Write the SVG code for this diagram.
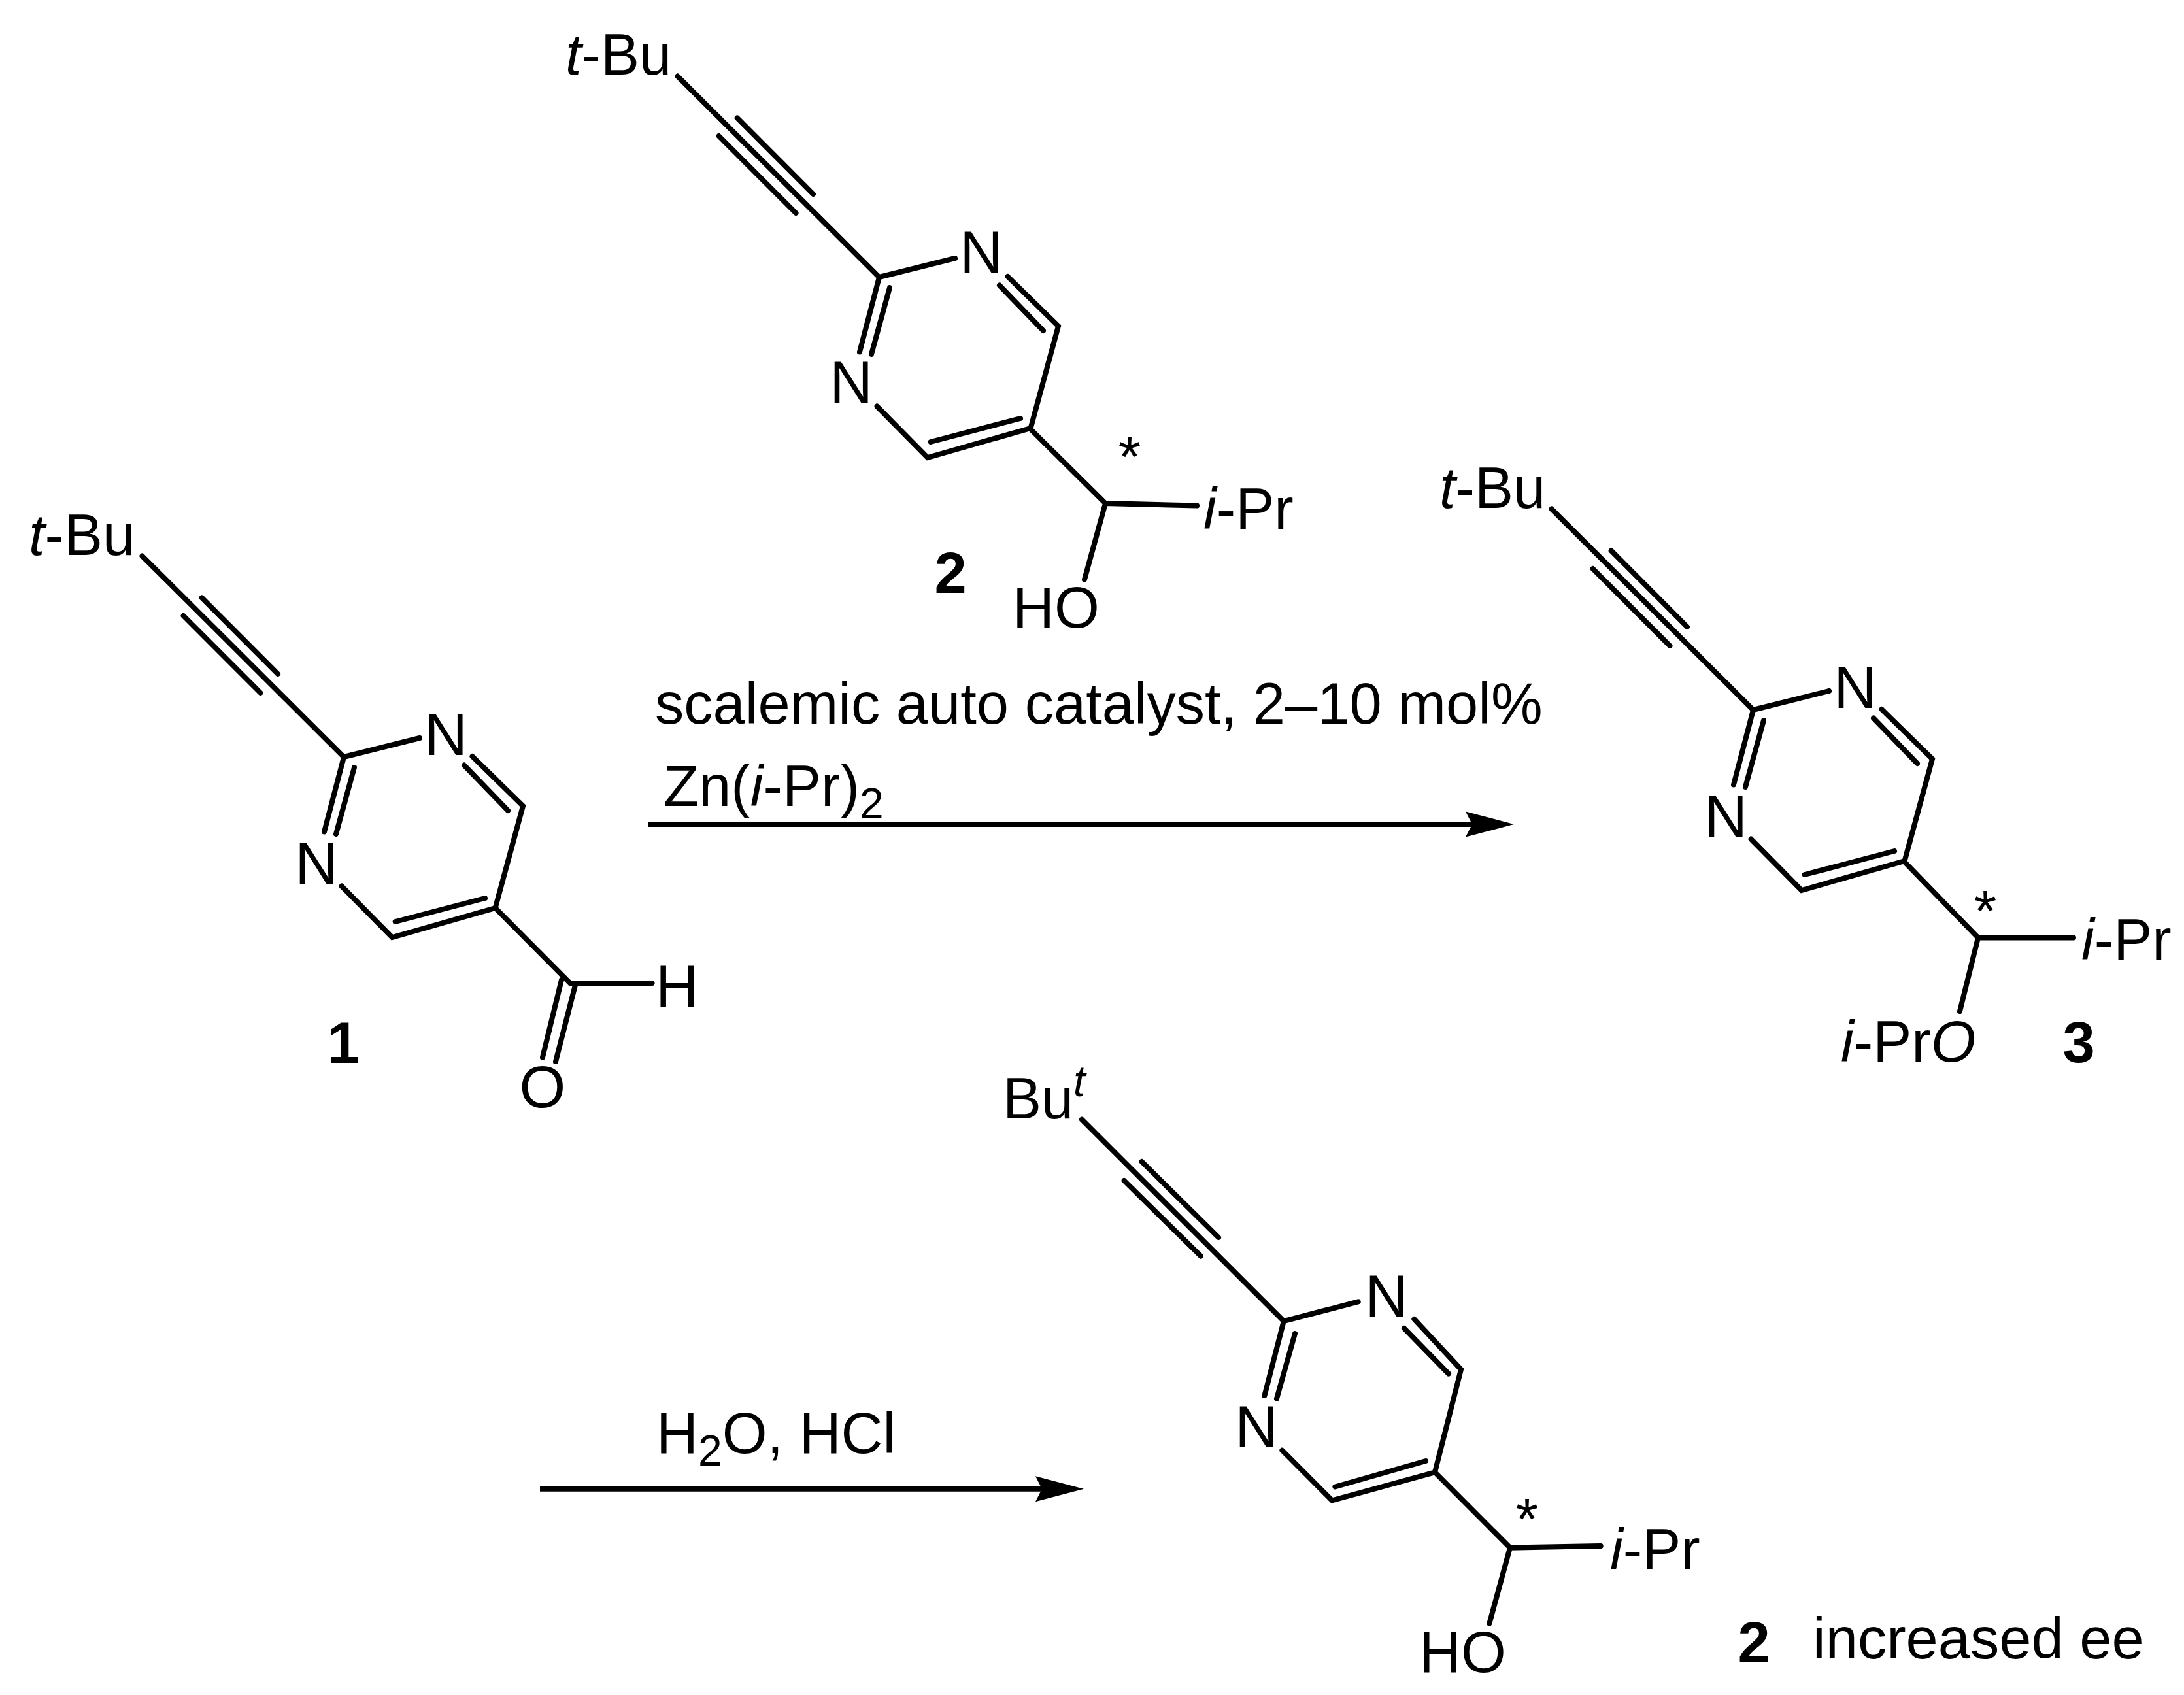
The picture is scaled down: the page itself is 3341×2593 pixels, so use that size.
<svg xmlns="http://www.w3.org/2000/svg" width="3341" height="2593" viewBox="0 0 3341 2593">
<style>
text{font-family:"Liberation Sans",Arial,sans-serif;font-size:88.5px;fill:#000}
.n{font-size:91px}
.b{font-weight:bold}
.i{font-style:italic}
.s{font-size:66px}
.bond{fill:none;stroke:#000;stroke-width:8;stroke-linecap:round;stroke-linejoin:miter}
.arrow{fill:none;stroke:#000;stroke-width:8;marker-end:url(#head)}
</style>
<defs>
<marker id="head" markerUnits="userSpaceOnUse" markerWidth="76" markerHeight="40" viewBox="0 0 76 40" refX="10" refY="20" orient="auto">
<path d="M0,0.5 L74,20 L0,39.5 L10,20 Z" fill="#000"/>
</marker>
<path id="skeleton" class="bond" d="M217.5,850.6 L526,1158 L642,1129 M308.7,914.4 L425,1031 M280.6,942 L398.5,1060 M526,1158 L496,1272.5 M542,1174 L514,1276 M522.6,1355.6 L600,1434 L757.6,1389 L800,1233 L722.5,1157 M604.7,1410 L742,1374 M777,1240 L710,1170.6"/>
</defs>
<rect width="3341" height="2593" fill="#fff"/>
<g id="connectors">
<path class="arrow" d="M992,1261 H2252"/>
<path class="arrow" d="M826,2277.7 H1594"/>
</g>
<g id="reagents-top">
<text x="1002" y="1107">scalemic auto catalyst, 2–10 mol%</text>
<text x="1015" y="1233">Zn(<tspan class="i">i</tspan>-Pr)<tspan class="s" dy="19">2</tspan></text>
</g>
<g id="reagents-bottom">
<text x="1004" y="2222.7">H<tspan class="s" dy="19">2</tspan><tspan dy="-19">O, HCl</tspan></text>
</g>
<g id="compound-1">
<use href="#skeleton"/>
<path class="bond" d="M757.6,1389 L872,1504 L997.6,1504 M859,1499 L830,1617.5 M880,1507 L850,1624"/>
<text x="44" y="849"><tspan class="i">t</tspan>-Bu</text>
<text class="n" x="682" y="1155" text-anchor="middle">N</text>
<text class="n" x="484" y="1352" text-anchor="middle">N</text>
<text class="n" x="1003" y="1540">H</text>
<text class="n" x="830" y="1694" text-anchor="middle">O</text>
<text class="b" x="525" y="1626" text-anchor="middle">1</text>
</g>
<g id="compound-2-top">
<use href="#skeleton" transform="translate(819,-734)"/>
<path class="bond" d="M1575,655 L1691,770 L1831,773.6 M1691,770 L1659,886.5"/>
<text x="865" y="114"><tspan class="i">t</tspan>-Bu</text>
<text class="n" x="1501" y="417" text-anchor="middle">N</text>
<text class="n" x="1302" y="616" text-anchor="middle">N</text>
<text x="1728" y="729" text-anchor="middle">*</text>
<text class="i" x="1841" y="809">i<tspan font-style="normal">-Pr</tspan></text>
<text class="b" x="1454" y="907" text-anchor="middle">2</text>
<text x="1549" y="960">HO</text>
</g>
<g id="compound-3">
<use href="#skeleton" transform="translate(2156,-72)"/>
<path class="bond" d="M2913,1318 L3026,1434.5 L3172,1434.5 M3026,1434.5 L2998,1547"/>
<text x="2202" y="777"><tspan class="i">t</tspan>-Bu</text>
<text class="n" x="2838" y="1083" text-anchor="middle">N</text>
<text class="n" x="2640" y="1280" text-anchor="middle">N</text>
<text x="3037" y="1424" text-anchor="middle">*</text>
<text class="i" x="3184" y="1468">i<tspan font-style="normal">-Pr</tspan></text>
<text class="i" x="2816" y="1624">i<tspan font-style="normal">-Pr</tspan>O</text>
<text class="b" x="3180" y="1625" text-anchor="middle">3</text>
</g>
<g id="compound-2-bottom">
<path class="bond" d="M1655,1712.7 L1963.8,2021 L2077.7,1991.4 M1746.6,1777 L1864,1893 M1719.6,1806 L1837,1921.7 M1963.8,2021 L1934.4,2135 M1981,2040 L1953,2139.6 M1961.4,2218.7 L2037.8,2295.4 L2195,2252.3 L2235,2095 L2163.4,2018 M2042.4,2274.5 L2181,2235 M2216,2101.6 L2148,2032 M2195,2252.3 L2310,2367.6 L2448.7,2365 M2310,2367.6 L2278.4,2483.5"/>
<text x="1534" y="1711">Bu</text>
<text class="i s" x="1642" y="1677">t</text>
<text class="n" x="2121" y="2014" text-anchor="middle">N</text>
<text class="n" x="1922" y="2214" text-anchor="middle">N</text>
<text x="2336" y="2354" text-anchor="middle">*</text>
<text class="i" x="2463" y="2401">i<tspan font-style="normal">-Pr</tspan></text>
<text x="2171" y="2558">HO</text>
<text class="b" x="2683" y="2543" text-anchor="middle">2</text>
<text x="2773" y="2537">increased ee</text>
</g>
</svg>
